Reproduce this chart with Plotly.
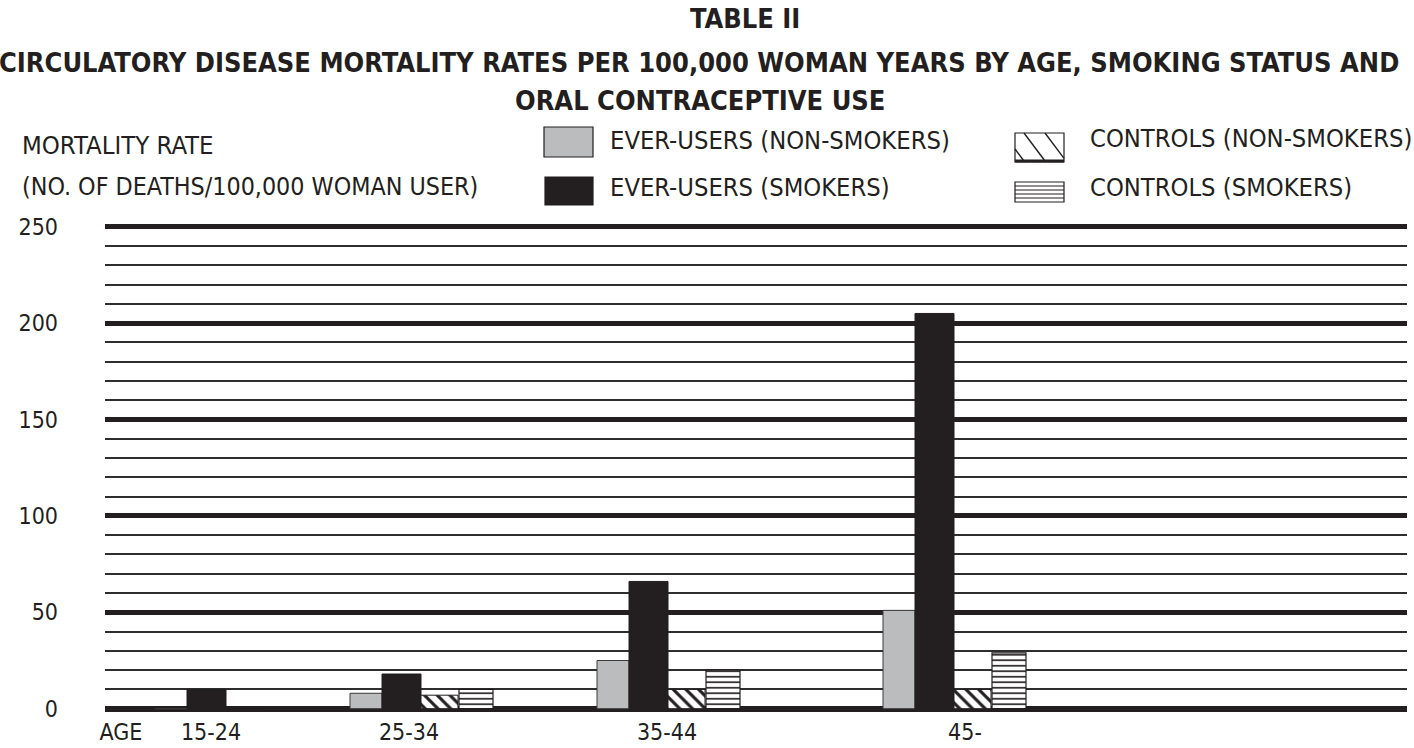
import plotly.graph_objects as go

# ---- data ----
age_groups = ["15-24", "25-34", "35-44", "45-"]
ever_users_non_smokers = [0, 8, 25, 51]
ever_users_smokers = [10, 18, 66, 205]
controls_non_smokers = [0, 7, 10, 10]
controls_smokers = [0, 10, 20, 29]
y_ticks = [0, 50, 100, 150, 200, 250]

# ---- layout geometry (pixels) ----
W, H = 1414, 748
PL, PR = 105, 1407          # plot area left/right
PT, PB = 223, 713           # plot area top/bottom
group_left = [50, 245, 492, 778]     # x (px from plot left) where each age group starts
label_pos = [106, 304, 562, 860]     # x of age-group labels
age_pos = 16
INK = "#231f20"
FONT = "Liberation Sans Narrow, DejaVu Sans Condensed, Arial Narrow, sans-serif"

y0_px, y250_px = 708.7, 226.7
ppu = (y0_px - y250_px) / 250.0
y_lo = -(PB - y0_px) / ppu
y_hi = 250 + (y250_px - PT) / ppu

def px(x):
    return (x - PL) / (PR - PL)

def py(y):
    return (PB - y) / (PB - PT)

fig = go.Figure()

series = [
    (ever_users_non_smokers, "EVER-USERS (NON-SMOKERS)", 0, 32,
     dict(color="#bbbcbe", line=dict(color="#3a3a3a", width=1))),
    (ever_users_smokers, "EVER-USERS (SMOKERS)", 32, 39,
     dict(color=INK, line=dict(color=INK, width=1))),
    (controls_non_smokers, "CONTROLS (NON-SMOKERS)", 71, 37,
     dict(color="white", line=dict(color=INK, width=1),
          pattern=dict(shape="\\", bgcolor="white", fgcolor=INK, size=9, solidity=0.35, fillmode="replace"))),
    (controls_smokers, "CONTROLS (SMOKERS)", 109, 34,
     dict(color="white", line=dict(color=INK, width=1.2),
          pattern=dict(shape="-", bgcolor="white", fgcolor=INK, size=5.5, solidity=0.3, fillmode="replace"))),
]
for vals, name, off, w, mk in series:
    fig.add_trace(go.Bar(
        x=group_left, y=vals, name=name, offset=off, width=w,
        marker=mk, showlegend=False,
        customdata=age_groups,
        hovertemplate="%{customdata}: %{y}<extra>" + name + "</extra>",
    ))

shapes = []
annotations = []

# title lines
title_lines = [("TABLE II", 745, 19),
               ("CIRCULATORY DISEASE MORTALITY RATES PER 100,000 WOMAN YEARS BY AGE, SMOKING STATUS AND", 699, 62),
               ("ORAL CONTRACEPTIVE USE", 700, 101)]
for txt, cx, cy in title_lines:
    annotations.append(dict(text="<b>" + txt + "</b>", x=px(cx), y=py(cy), xref="paper", yref="paper",
                            xanchor="center", yanchor="middle", showarrow=False,
                            font=dict(family=FONT, size=27, color=INK)))
# y-axis caption
for txt, cy, sz in [("MORTALITY RATE", 145, 25.5), ("(NO. OF DEATHS/100,000 WOMAN USER)", 186, 24.8)]:
    annotations.append(dict(text=txt, x=px(20), y=py(cy), xref="paper", yref="paper",
                            xanchor="left", yanchor="middle", showarrow=False,
                            font=dict(family=FONT, size=sz, color=INK)))

# legend swatches + texts
def rect(x0, y0, x1, y1, fill, lw=1.2):
    shapes.append(dict(type="rect", xref="paper", yref="paper", x0=px(x0), x1=px(x1), y0=py(y1), y1=py(y0),
                       fillcolor=fill, line=dict(color=INK, width=lw)))

def seg(x0, y0, x1, y1, lw=1.5):
    shapes.append(dict(type="line", xref="paper", yref="paper", x0=px(x0), x1=px(x1), y0=py(y0), y1=py(y1),
                       line=dict(color=INK, width=lw)))

rect(544, 127, 593, 157, "#bbbcbe")
rect(545, 177, 593, 205, INK)
# hatched swatch
hx0, hy0, hx1, hy1 = 1015, 133, 1064, 162
rect(hx0, hy0, hx1, hy1, "white")
slope = 0.75
for sx in [1003, 1024, 1045]:
    ax, ay = sx, hy0
    bx, by = sx + slope * (hy1 - hy0), hy1
    if ax < hx0:
        ay = hy0 + (hx0 - ax) / slope
        ax = hx0
    if bx > hx1:
        by = hy0 + (hx1 - sx) / slope
        bx = hx1
    seg(ax, ay, bx, by, 1.4)
seg(hx0, hy1 - 1, hx1, hy1 - 1, 3)
# striped swatch
sx0, sy0, sx1, sy1 = 1015, 182, 1064, 202
rect(sx0, sy0, sx1, sy1, "white")
for yy in [186, 190, 194, 198]:
    seg(sx0, yy, sx1, yy, 1.2)

for txt, x, cy in [("EVER-USERS (NON-SMOKERS)", 608, 140), ("EVER-USERS (SMOKERS)", 608, 187),
                   ("CONTROLS (NON-SMOKERS)", 1088, 139), ("CONTROLS (SMOKERS)", 1088, 187)]:
    annotations.append(dict(text=txt, x=px(x), y=py(cy), xref="paper", yref="paper",
                            xanchor="left", yanchor="middle", showarrow=False,
                            font=dict(family=FONT, size=25.3, color=INK)))

fig.update_layout(
    width=W, height=H,
    margin=dict(l=PL, r=W - PR, t=PT, b=H - PB, pad=0),
    paper_bgcolor="white", plot_bgcolor="white",
    barmode="overlay",
    showlegend=False,
    shapes=shapes, annotations=annotations,
    font=dict(family=FONT, color=INK),
)
fig.update_xaxes(
    automargin=False,
    range=[0, PR - PL], showgrid=False, zeroline=False, showline=False,
    tickmode="array", tickvals=[age_pos] + label_pos, ticktext=["AGE"] + age_groups,
    ticks="", tickfont=dict(family=FONT, size=23, color=INK), ticklabelstandoff=3,
)
fig.update_yaxes(
    automargin=False,
    range=[y_lo, y_hi], tickmode="array", tickvals=y_ticks,
    showgrid=True, gridcolor=INK, gridwidth=5,
    minor=dict(dtick=10, tick0=0, showgrid=True, gridcolor="#2e2e2e", gridwidth=1.6),
    zeroline=True, zerolinecolor=INK, zerolinewidth=6,
    showline=False, ticks="", tickfont=dict(family=FONT, size=23, color=INK),
    ticklabelstandoff=46,
)

fig.write_html("out.html", config={"displayModeBar": False},
               post_script="document.body.style.margin='0';document.body.style.overflow='hidden';")
